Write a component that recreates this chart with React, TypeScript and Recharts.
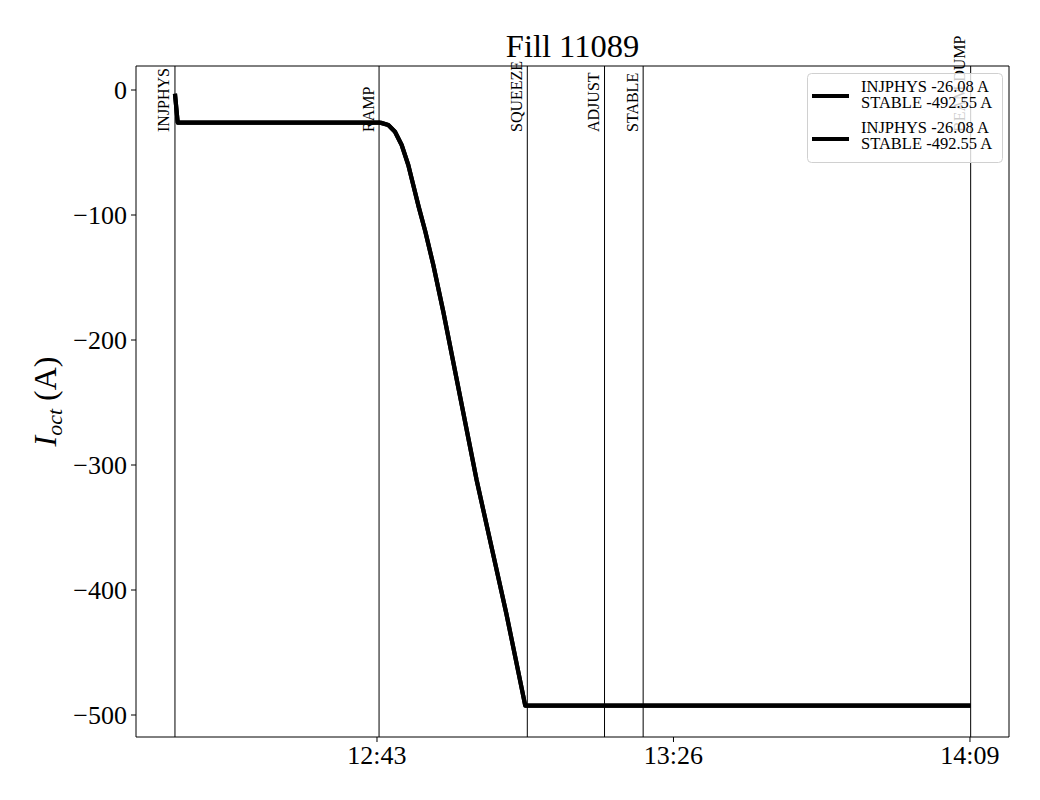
import React from 'react'
import { LineChart, Line, XAxis, YAxis, ReferenceLine, Legend } from 'recharts'

const SERIF = '"Liberation Serif", "DejaVu Serif", serif'

// time in minutes after midnight, octupole current in A
const timeMin = [733.7, 734.1, 763.3, 763.6, 764.64, 765.61, 766.58, 767.54, 768.26, 769.05, 770.0, 771.17, 772.62, 777.45, 781.75, 784.5, 849.1]
const ioct = [-3, -26.08, -26.08, -26.3, -28, -33.4, -44, -60, -76, -93.5, -113, -140, -177.4, -312, -418.6, -492.55, -492.55]

// beam mode markers
const modeNames = ['INJPHYS', 'RAMP', 'SQUEEZE', 'ADJUST', 'STABLE', 'BEAM DUMP']
const modeTimes = [733.7, 763.3, 784.8, 796.0, 801.6, 849.1]

const xTicks = [763, 806, 849]
const yTicks = [0, -100, -200, -300, -400, -500]
const xDomain = [728.05, 854.66]
const yDomain = [-517.6, 19.2]

const legendEntries = [
  ['INJPHYS -26.08 A', 'STABLE -492.55 A'],
  ['INJPHYS -26.08 A', 'STABLE -492.55 A'],
]

const data = timeMin.map((t, i) => ({ t, a: ioct[i], b: ioct[i] }))

const fmtTime = (m: number) =>
  `${Math.floor(m / 60)}:${String(Math.round(m % 60)).padStart(2, '0')}`
const fmtY = (v: number) => (v < 0 ? `\u2212${-v}` : `${v}`)

const ModeLabel = (props: any) => {
  const { viewBox, name } = props
  const x = viewBox.x - 5.5
  const y = viewBox.y + 66
  return (
    <text x={x} y={y} transform={`rotate(-90 ${x} ${y})`} fontSize={16} fontFamily={SERIF} fill="#000">
      {name}
    </text>
  )
}

const YLabel = (props: any) => {
  const { viewBox } = props
  const x = viewBox.x
  const y = viewBox.y + viewBox.height / 2
  return (
    <text x={x} y={y} transform={`rotate(-90 ${x} ${y})`} textAnchor="middle" fontSize={32} fontFamily={SERIF} fill="#000">
      <tspan fontStyle="italic">I</tspan>
      <tspan fontStyle="italic" fontSize={22} dy={6}>oct</tspan>
      <tspan dy={-6}> (A)</tspan>
    </text>
  )
}

const LegendBox = () => (
  <svg width={196} height={90} style={{ display: 'block' }}>
    <rect x={0.5} y={0.5} width={195} height={89} rx={4} fill="rgba(255,255,255,0.8)" stroke="#d0d0d0" />
    {legendEntries.map((lines, i) => (
      <g key={i}>
        <line x1={5} x2={42} y1={23 + i * 43} y2={23 + i * 43} stroke="#000" strokeWidth={4} />
        {lines.map((s, j) => (
          <text key={j} x={54} y={18.6 + i * 41 + j * 16.7} fontSize={16.5} fontFamily={SERIF} fill="#000">
            {s}
          </text>
        ))}
      </g>
    ))}
  </svg>
)

export default function App() {
  const tickStyle = { fontSize: 26, fontFamily: SERIF, fill: '#000' }
  return (
    <div style={{ position: 'relative', width: 1040, height: 800, background: '#fff' }}>
      <style>{'body{margin:0}'}</style>
      <LineChart width={1040} height={800} data={data} margin={{ top: 66, right: 31, bottom: 23, left: 56 }}>
        <XAxis
          dataKey="t"
          type="number"
          domain={xDomain}
          ticks={xTicks}
          tickFormatter={fmtTime}
          allowDataOverflow
          height={40}
          tick={tickStyle}
          tickSize={5}
          tickMargin={4}
          stroke="#000"
        />
        <YAxis
          type="number"
          domain={yDomain}
          ticks={yTicks}
          tickFormatter={fmtY}
          allowDataOverflow
          width={80}
          tick={tickStyle}
          tickSize={5}
          tickMargin={4}
          stroke="#000"
          label={<YLabel />}
        />
        {/* top and right frame */}
        <ReferenceLine y={yDomain[1]} stroke="#000" strokeWidth={1} />
        <ReferenceLine x={xDomain[1]} stroke="#000" strokeWidth={1} />
        {modeTimes.map((t, i) => (
          <ReferenceLine key={modeNames[i]} x={t} stroke="#000" strokeWidth={1} label={<ModeLabel name={modeNames[i]} />} />
        ))}
        <Line type="linear" dataKey="a" stroke="#000" strokeWidth={4.2} dot={false} isAnimationActive={false} strokeLinejoin="round" />
        <Line type="linear" dataKey="b" stroke="#000" strokeWidth={4.2} dot={false} isAnimationActive={false} strokeLinejoin="round" />
        <Legend
          layout="horizontal"
          verticalAlign="middle"
          align="center"
          wrapperStyle={{ position: 'absolute', left: 807, top: 73, width: 196, height: 90, margin: 0 }}
          content={() => <LegendBox />}
        />
      </LineChart>
      <svg width={1040} height={70} style={{ position: 'absolute', left: 0, top: 0, pointerEvents: 'none' }}>
        <text x={572.5} y={57} textAnchor="middle" fontSize={32.5} fontFamily={SERIF} fill="#000">
          Fill 11089
        </text>
      </svg>
    </div>
  )
}
